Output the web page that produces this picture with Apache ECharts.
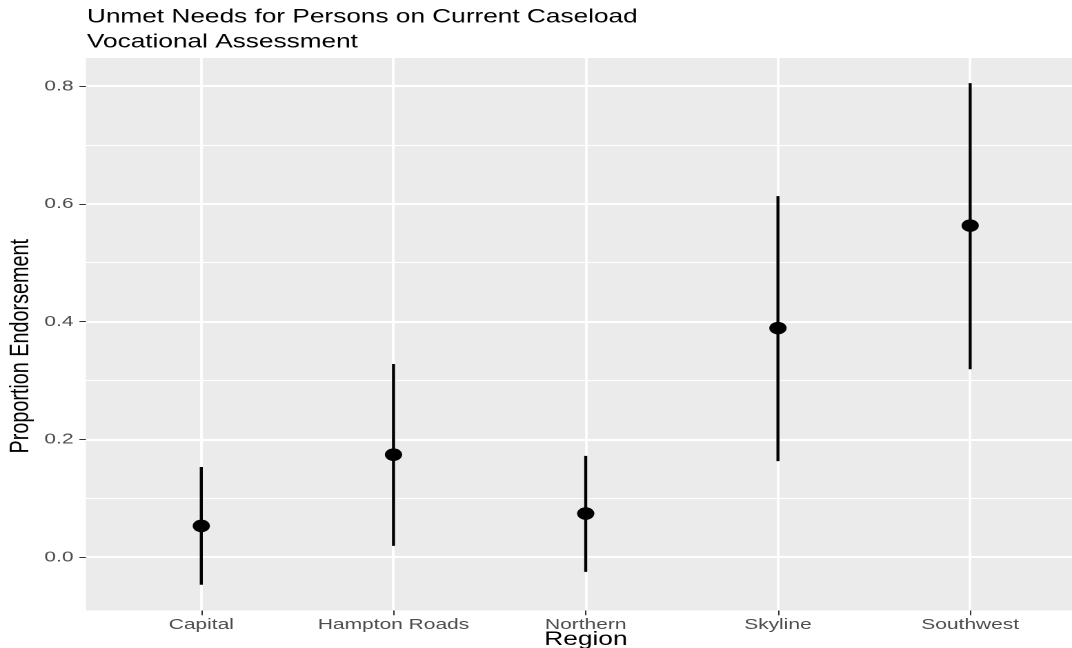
<!DOCTYPE html>
<html>
<head>
<meta charset="utf-8">
<script src="https://cdn.jsdelivr.net/npm/echarts@6/dist/echarts.min.js"></script>
<style>
  html, body { margin: 0; padding: 0; background: #ffffff; overflow: hidden; }
  #wrap { width: 1072px; height: 648px; overflow: hidden; }
  /* the plot is laid out narrower and widened horizontally, like the exported figure */
  #chart { width: 777px; height: 648px; transform: scaleX(1.3797); transform-origin: 0 0; }
</style>
</head>
<body>
<div id="wrap"><div id="chart"></div></div>
<script>
// Unmet needs (vocational assessment) by region: estimate with interval
const regions    = ['Capital', 'Hampton Roads', 'Northern', 'Skyline', 'Southwest'];
const proportion = [0.053, 0.174, 0.074, 0.389, 0.563];
const lower      = [-0.047, 0.019, -0.025, 0.163, 0.319];
const upper      = [0.153, 0.328, 0.172, 0.613, 0.805];
const yTicks     = [0, 0.2, 0.4, 0.6, 0.8];
const yMinor     = [0.1, 0.3, 0.5, 0.7];
const xPositions = regions.map((r, i) => i);

const FONT = "'Liberation Sans', Arial, Helvetica, sans-serif";
const chart = echarts.init(document.getElementById('chart'), null, { renderer: 'canvas', devicePixelRatio: 2 });

chart.setOption({
  animation: false,
  backgroundColor: '#ffffff',
  textStyle: { fontFamily: FONT },
  title: {
    text: 'Unmet Needs for Persons on Current Caseload',
    subtext: 'Vocational Assessment',
    left: 63,
    top: 8,
    itemGap: 6,
    padding: 0,
    textStyle: { fontFamily: FONT, fontSize: 19, fontWeight: 'normal', color: '#000000', lineHeight: 19 },
    subtextStyle: { fontFamily: FONT, fontSize: 19, color: '#000000', lineHeight: 19 }
  },
  grid: {
    left: 62.3, right: 0, top: 58, bottom: 37.5,
    containLabel: false,
    outerBoundsMode: 'none',
    show: true, backgroundColor: '#EBEBEB', borderWidth: 0
  },
  xAxis: {
    type: 'value',
    min: -0.6,
    max: 4.53,
    axisLine: { show: false, onZero: false },
    axisTick: { show: true, length: 4.75, customValues: xPositions, lineStyle: { color: '#333333', width: 1 } },
    axisLabel: {
      customValues: xPositions,
      formatter: v => regions[Math.round(v)],
      color: '#4D4D4D', fontSize: 15.2, fontFamily: FONT, margin: 7
    },
    splitLine: { show: true, lineStyle: { color: '#ffffff', width: 1.9 } },
    name: 'Region',
    nameLocation: 'middle',
    nameMoveOverlap: false,
    nameGap: 20,
    nameTextStyle: { fontFamily: FONT, fontSize: 19, color: '#000000', lineHeight: 19, padding: [0, 0, 0, 10] }
  },
  yAxis: [
    {
      type: 'value',
      min: -0.0907,
      max: 0.8477,
      axisLine: { show: false, onZero: false },
      axisTick: { show: true, length: 4.75, customValues: yTicks, lineStyle: { color: '#333333', width: 1 } },
      axisLabel: {
        customValues: yTicks,
        formatter: v => v.toFixed(1),
        color: '#4D4D4D', fontSize: 15.2, fontFamily: FONT, margin: 9
      },
      splitLine: { show: true, lineStyle: { color: '#ffffff', width: 1.9 } },
      name: 'Proportion Endorsement',
      nameLocation: 'middle',
      nameMoveOverlap: false,
      nameGap: 37.5,
      nameTextStyle: { fontFamily: FONT, fontSize: 19.8, color: '#000000', padding: [0, 24, 0, 0] }
    },
    {
      type: 'value',
      position: 'left',
      min: -0.0907,
      max: 0.8477,
      axisLine: { show: false, onZero: false },
      axisTick: { show: false, customValues: yMinor },
      axisLabel: { show: false, customValues: yMinor },
      splitLine: { show: true, lineStyle: { color: '#ffffff', width: 0.95 } }
    }
  ],
  series: [
    {
      type: 'custom',
      name: 'interval',
      xAxisIndex: 0,
      yAxisIndex: 0,
      data: regions.map((r, i) => [i, lower[i], upper[i]]),
      encode: { x: 0, y: [1, 2] },
      renderItem: (params, api) => {
        const x = api.value(0);
        const a = api.coord([x, api.value(1)]);
        const b = api.coord([x, api.value(2)]);
        return {
          type: 'line',
          shape: { x1: a[0], y1: a[1], x2: b[0], y2: b[1] },
          style: { stroke: '#000000', lineWidth: 2.2 }
        };
      }
    },
    {
      type: 'scatter',
      name: 'proportion',
      xAxisIndex: 0,
      yAxisIndex: 0,
      data: regions.map((r, i) => [i, proportion[i]]),
      symbol: 'circle',
      symbolSize: 12.5,
      itemStyle: { color: '#000000', opacity: 1 },
      z: 3
    }
  ]
});
</script>
</body>
</html>
